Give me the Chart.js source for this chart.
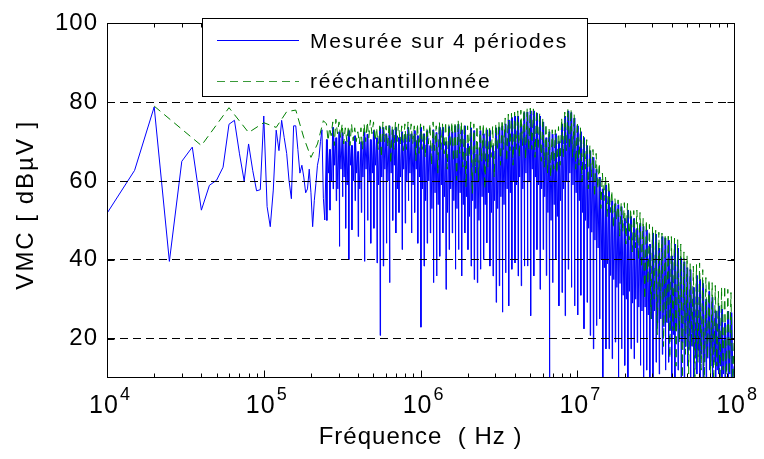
<!DOCTYPE html>
<html>
<head>
<meta charset="utf-8">
<script src="https://cdn.jsdelivr.net/npm/chart.js@4.4.1/dist/chart.umd.min.js"></script>
<style>
  html, body { margin: 0; padding: 0; background: #ffffff; }
  #wrap { width: 764px; height: 459px; }
</style>
</head>
<body>
<div id="wrap"><canvas id="spectrum" width="764" height="459"></canvas></div>
<script>
// Common-mode voltage spectrum, levels in dBµV.

// Low band: individual spectral lines (kHz) of the 4-period measurement.
const measuredLineFreqKHz = [10, 15, 20, 25, 30, 35, 40, 45, 50, 55, 60, 65, 70, 75, 80, 85, 90, 95,
  100, 105, 110, 115, 120, 125, 130, 135, 140, 145, 150, 155, 160, 165, 170, 175, 180, 185, 190, 195,
  200, 205, 210, 215, 220, 225, 230, 235, 240, 245];
const measuredLineLevel = [51.8, 62.7, 78.8, 39.6, 65.0, 68.6, 52.6, 58.9, 60.2, 63.5, 74.4, 75.4, 66.9,
  60.0, 69.4, 62.7, 57.5, 57.8, 76.5, 53.5, 48.4, 57.7, 72.9, 67.7, 75.4, 71.0, 67.0, 60.0, 55.5, 74.0,
  74.0, 68.0, 62.0, 64.0, 61.0, 57.0, 58.0, 63.0, 57.0, 48.4, 55.0, 59.3, 64.0, 66.0, 70.0, 73.0, 55.6, 50.1];

// Low band: spectral lines (kHz) of the resampled signal.
const resampledLineFreqKHz = [20, 40, 60, 80, 100, 120, 140, 160, 180, 200, 220, 240];
const resampledLineLevel = [79.0, 69.0, 78.6, 72.3, 74.8, 73.6, 77.6, 78.0, 71.0, 66.0, 69.4, 75.3];

// Upper band: log-spaced bins, 50 per decade starting at 10^5.4 Hz.
// Each bin holds its peak level, its deepest dip and (measured trace) a shallower dip.
const BIN_START_LOG10 = 5.4;
const BINS_PER_DECADE = 50;

const measuredBinPeak = [
  70.5, 68.0, 73.6, 71.0, 72.5, 72.3, 70.0, 72.8, 69.0, 71.5, 67.5, 70.0, 72.5, 71.9, 70.5,
  72.8, 71.0, 73.6, 73.6, 72.0, 74.0, 73.0, 73.6, 71.0, 72.5, 71.9, 73.6, 72.0, 72.8, 71.5,
  73.6, 72.0, 72.8, 69.0, 73.0, 72.3, 73.6, 73.6, 70.0, 73.8, 72.5, 74.0, 74.4, 73.0, 74.0,
  69.5, 73.5, 72.8, 68.5, 72.8, 72.0, 73.0, 72.8, 69.0, 73.5, 73.6, 74.0, 74.5, 75.5, 76.1,
  76.5, 76.5, 74.5, 77.4, 77.5, 77.8, 77.8, 77.2, 76.5, 75.0, 71.0, 72.5, 71.9, 72.0, 70.0,
  74.5, 76.5, 77.8, 77.4, 76.0,
  74.0, 72.5, 71.0, 69.0, 67.7, 66.0, 63.0, 61.0, 58.0, 59.0, 57.5, 55.0, 54.3, 54.0, 53.5,
  50.5, 52.6, 51.0, 50.5, 48.0, 49.3, 48.5, 47.6, 44.0, 46.8, 46.5, 43.0, 45.9, 45.5, 45.0,
  41.0, 44.0, 43.0, 40.5, 39.5, 38.0, 37.5, 33.0, 36.0, 35.0, 34.0, 30.0, 32.0, 30.5, 27.0,
  28.3, 27.5, 24.0, 27.0, 26.6];
const measuredBinDip = [
  50.0, 52.6, 58.0, 55.0, 43.4, 56.0, 48.0, 40.0, 47.6, 55.0, 45.9, 52.0, 39.6, 50.0, 44.2,
  48.0, 39.2, 20.8, 38.4, 44.2, 34.2, 50.0, 46.8, 52.0, 42.6, 49.3, 55.0, 46.8, 52.0, 44.2,
  22.9, 38.4, 44.2, 46.8, 34.2, 35.9, 40.9, 46.8, 32.5, 42.6, 46.8, 37.6, 42.6, 35.9, 46.8,
  42.6, 38.4, 35.0, 34.2, 37.6, 40.1, 44.3, 38.4, 35.9, 29.2, 33.4, 26.7, 36.7, 28.3, 37.6,
  39.2, 35.9, 33.4, 38.4, 38.4, 25.8, 35.9, 42.6, 32.5, 42.6, 36.0, 5.0, 34.2, 40.0, 28.3,
  31.7, 25.8, 37.6, 33.0, 28.3,
  26.0, 31.0, 22.5, 29.2, 20.8, 17.4, 23.3, 25.0, 5.0, 17.4, 17.4, 14.9, 19.1, 5.0, 17.4,
  13.2, 5.0, 17.4, 14.9, 19.0, 13.2, 5.0, 12.0, 5.0, 5.0, 14.0, 11.0, 16.0, 12.0, 14.0,
  5.0, 5.0, 12.0, 5.0, 5.0, 13.0, 5.0, 5.0, 11.0, 5.0, 5.0, 5.0, 12.0, 5.0, 5.0,
  11.0, 5.0, 5.0, 10.0, 5.0];
const measuredBinShallow = [
  62.0, 60.0, 64.0, 58.0, 63.0, 61.0, 59.0, 64.0, 60.0, 62.0, 58.0, 61.0, 63.0, 60.0, 62.0,
  64.0, 59.0, 61.0, 63.0, 60.0, 62.0, 64.0, 58.0, 61.0, 63.0, 60.0, 62.0, 59.0, 63.0, 61.0,
  58.0, 55.0, 60.0, 53.0, 57.0, 54.0, 59.0, 56.0, 52.0, 58.0, 55.0, 53.0, 57.0, 54.0, 56.0,
  51.0, 55.0, 53.0, 50.0, 56.0, 54.0, 57.0, 52.0, 55.0, 53.0, 56.0, 54.0, 58.0, 57.0, 60.0,
  59.0, 61.0, 58.0, 62.0, 60.0, 63.0, 61.0, 59.0, 58.0, 56.0, 52.0, 50.0, 54.0, 51.0, 55.0,
  58.0, 60.0, 62.0, 59.0, 57.0,
  55.0, 52.0, 50.0, 48.0, 47.0, 45.0, 43.0, 40.0, 38.0, 39.0, 36.0, 35.0, 33.0, 34.0, 31.0,
  30.0, 32.0, 29.0, 30.0, 28.0, 27.0, 28.0, 26.0, 25.0, 27.0, 24.0, 25.0, 23.0, 24.0, 22.0,
  21.0, 23.0, 20.0, 19.0, 18.0, 17.0, 18.0, 15.0, 17.0, 16.0, 14.0, 15.0, 13.0, 14.0, 12.0,
  13.0, 11.0, 12.0, 11.0, 10.0];

const resampledBinPeak = [
  74.5, 73.5, 75.0, 75.7, 75.0, 74.5, 73.5, 74.0, 74.5, 73.5, 72.5, 73.5, 74.5, 75.0, 75.5,
  75.0, 73.5, 74.0, 75.0, 74.0, 74.5, 74.0, 75.0, 74.5, 74.0, 74.5, 75.0, 74.5, 74.0, 74.5,
  74.5, 74.0, 73.5, 74.5, 75.0, 74.0, 75.0, 74.5, 75.0, 74.5, 75.0, 75.0, 75.5, 75.0, 74.5,
  74.0, 75.0, 74.5, 74.0, 74.0, 74.5, 73.5, 74.0, 74.0, 74.5, 75.0, 75.5, 76.0, 77.0, 77.2,
  77.5, 77.8, 78.0, 78.2, 78.4, 78.5, 78.3, 78.0, 77.2, 76.0, 74.5, 73.2, 73.0, 73.0, 73.8,
  76.0, 77.5, 78.4, 78.2, 77.0,
  75.0, 73.5, 71.5, 70.5, 69.0, 68.0, 67.0, 64.5, 62.0, 61.0, 60.0, 57.5, 55.5, 55.2, 54.5,
  54.5, 54.3, 53.0, 52.5, 52.6, 52.0, 50.5, 50.0, 49.0, 48.4, 47.5, 47.0, 46.8, 46.5, 46.0,
  45.9, 45.5, 45.1, 44.0, 42.0, 41.0, 39.0, 38.4, 38.8, 39.2, 37.5, 35.5, 35.0, 34.2, 33.5,
  32.0, 33.0, 33.4, 32.5, 31.7];
const resampledBinDip = [
  70.2, 71.5, 69.0, 72.0, 71.0, 69.4, 70.0, 69.0, 70.2, 70.0, 69.4, 68.0, 70.0, 71.0, 72.0,
  70.2, 68.0, 66.0, 70.0, 68.6, 64.4, 68.0, 70.0, 69.4, 67.7, 68.0, 70.0, 69.4, 65.2, 67.0,
  68.0, 66.0, 69.4, 64.0, 67.7, 62.0, 68.0, 66.9, 63.0, 68.5, 65.0, 60.2, 67.0, 63.5, 58.5,
  66.0, 56.8, 62.0, 60.0, 65.0, 58.0, 63.5, 66.0, 61.0, 67.7, 64.0, 68.0, 65.0, 67.7, 64.0,
  68.0, 66.0, 69.0, 65.5, 67.7, 68.0, 66.0, 68.0, 65.0, 63.5, 62.0, 61.0, 63.0, 62.0, 64.0,
  66.0, 67.7, 68.0, 66.0, 63.0,
  64.0, 60.0, 63.0, 58.0, 61.0, 56.0, 58.0, 53.0, 55.0, 51.0, 52.0, 48.0, 50.0, 46.0, 47.0,
  44.0, 45.0, 42.0, 43.0, 40.0, 38.0, 30.0, 34.0, 25.0, 30.0, 21.0, 27.0, 18.0, 24.0, 15.0,
  22.0, 13.0, 19.0, 10.0, 16.0, 11.0, 18.0, 9.0, 14.0, 12.0, 8.0, 15.0, 11.0, 9.0, 13.0,
  8.0, 12.0, 9.0, 11.0, 8.0];

// Level of each trace at the 100 MHz end of the band.
const measuredAt100MHz = 13.0;
const resampledAt100MHz = 19.0;

// Axis ticks.
const yTickValues = [20, 40, 60, 80, 100];
const xDecadeExponents = [4, 5, 6, 7, 8];

const seriesNames = ['Mesurée sur 4 périodes', 'rééchantillonnée'];
const FONT = '"Liberation Sans", Arial, Helvetica, sans-serif';
const LEGEND_FONT_PX = 21;

const binFreq = (lg, frac) => Math.pow(10, lg + frac / BINS_PER_DECADE);

// Measured trace: each bin is a narrow tooth (peak, deep dip, peak)
// followed by a wider notch down to the shallow dip.
function buildMeasured() {
  const pts = measuredLineFreqKHz.map((f, i) => ({ x: f * 1e3, y: measuredLineLevel[i] }));
  measuredBinPeak.forEach((peak, i) => {
    const lg = BIN_START_LOG10 + i / BINS_PER_DECADE;
    pts.push({ x: binFreq(lg, 0), y: peak });
    pts.push({ x: binFreq(lg, 0.12), y: measuredBinDip[i] });
    pts.push({ x: binFreq(lg, 0.24), y: peak });
    pts.push({ x: binFreq(lg, 0.62), y: measuredBinShallow[i] });
  });
  pts.push({ x: 1e8, y: measuredAt100MHz });
  return pts;
}

// Resampled trace: peak then dip in each bin.
function buildResampled() {
  const pts = resampledLineFreqKHz.map((f, i) => ({ x: f * 1e3, y: resampledLineLevel[i] }));
  resampledBinPeak.forEach((peak, i) => {
    const lg = BIN_START_LOG10 + i / BINS_PER_DECADE;
    pts.push({ x: binFreq(lg, 0), y: peak });
    pts.push({ x: binFreq(lg, 0.5), y: resampledBinDip[i] });
  });
  pts.push({ x: 1e8, y: resampledAt100MHz });
  return pts;
}

const measuredTrace = buildMeasured();
const resampledTrace = buildResampled();

const BLUE = '#0000ff';
const GREEN = '#008000';
const DASH = [8, 5];

// Text spacing for all chart text.
const textSpacing = {
  id: 'textSpacing',
  beforeDraw(chart) { chart.ctx.letterSpacing = '1px'; }
};

// The vertical axis title is set a little looser and lower.
function loosenTitle(scale) {
  if (scale._titleLoosened) return;
  scale._titleLoosened = true;
  const drawTitle = scale.drawTitle.bind(scale);
  scale.drawTitle = function () {
    const ctx = this.ctx;
    ctx.save();
    ctx.letterSpacing = '2px';
    ctx.translate(0, 4);
    drawTitle();
    ctx.restore();
  };
}

// Boxed axes with inward ticks, power-of-ten exponents and the legend.
const framePlugin = {
  id: 'frame',
  afterDraw(chart) {
    const { ctx, chartArea: a, scales: { x, y } } = chart;
    ctx.save();
    ctx.setLineDash([]);
    ctx.strokeStyle = '#000';
    ctx.lineWidth = 1;
    const L = Math.round(a.left) + 0.5, R = Math.round(a.right) + 0.5;
    const T = Math.round(a.top) + 0.5, B = Math.round(a.bottom) - 0.5;
    ctx.strokeRect(L, T, R - L, B - T);

    const major = 7, minor = 4;
    ctx.beginPath();
    xDecadeExponents.forEach(e => {
      const px = Math.round(x.getPixelForValue(Math.pow(10, e))) + 0.5;
      ctx.moveTo(px, B); ctx.lineTo(px, B - major);
      ctx.moveTo(px, T); ctx.lineTo(px, T + major);
      if (e < xDecadeExponents[xDecadeExponents.length - 1]) {
        for (let m = 2; m <= 9; m++) {
          const pm = Math.round(x.getPixelForValue(m * Math.pow(10, e))) + 0.5;
          ctx.moveTo(pm, B); ctx.lineTo(pm, B - minor);
          ctx.moveTo(pm, T); ctx.lineTo(pm, T + minor);
        }
      }
    });
    yTickValues.forEach(v => {
      const py = Math.round(y.getPixelForValue(v)) + 0.5;
      ctx.moveTo(L, py); ctx.lineTo(L + major, py);
      ctx.moveTo(R, py); ctx.lineTo(R - major, py);
    });
    ctx.stroke();

    // Exponents of the x tick labels.
    const tickFont = x.options.ticks.font;
    ctx.letterSpacing = '1px';
    ctx.font = `${tickFont.size}px ${FONT}`;
    const baseW = ctx.measureText('10').width;
    ctx.font = `18px ${FONT}`;
    ctx.fillStyle = '#000';
    ctx.textAlign = 'left';
    ctx.textBaseline = 'alphabetic';
    xDecadeExponents.forEach(e => {
      const px = x.getPixelForValue(Math.pow(10, e)) + x.options.ticks.labelOffset;
      ctx.fillText(String(e), px + baseW / 2 + 1, a.bottom + 21.5);
    });

    // Legend box.
    const lx = 202, ly = 18, lw = 386, lh = 79;
    ctx.fillStyle = '#fff';
    ctx.fillRect(lx, ly, lw, lh);
    ctx.strokeStyle = '#000';
    ctx.strokeRect(lx + 0.5, ly + 0.5, lw - 1, lh - 1);
    const rows = [
      { name: seriesNames[0], color: BLUE, dash: [], lineY: 40.5, textY: 47.5 },
      { name: seriesNames[1], color: '#3a9a3a', dash: DASH, lineY: 81.5, textY: 87.5 }
    ];
    ctx.font = `${LEGEND_FONT_PX}px ${FONT}`;
    ctx.letterSpacing = '1.7px';
    rows.forEach(r => {
      ctx.beginPath();
      ctx.setLineDash(r.dash);
      ctx.strokeStyle = r.color;
      ctx.moveTo(217, r.lineY); ctx.lineTo(299, r.lineY);
      ctx.stroke();
      ctx.setLineDash([]);
      ctx.fillStyle = '#000';
      ctx.fillText(r.name, 310, r.textY);
    });
    ctx.restore();
  }
};

new Chart(document.getElementById('spectrum'), {
  type: 'line',
  data: {
    datasets: [
      { label: seriesNames[0], data: measuredTrace, borderColor: BLUE, borderWidth: 1,
        pointRadius: 0, tension: 0, order: 2 },
      { label: seriesNames[1], data: resampledTrace, borderColor: GREEN, borderWidth: 1,
        borderDash: DASH, pointRadius: 0, tension: 0, order: 1 }
    ]
  },
  options: {
    responsive: false,
    animation: false,
    devicePixelRatio: 1,
    events: [],
    layout: { padding: { left: 0, top: 20, right: 22, bottom: 0 } },
    plugins: { legend: { display: false }, tooltip: { enabled: false } },
    scales: {
      x: {
        type: 'logarithmic',
        min: 1e4,
        max: 1e8,
        afterFit(scale) { scale.height = 81; },
        afterBuildTicks(scale) {
          scale.ticks = xDecadeExponents.map(e => ({ value: Math.pow(10, e), major: true }));
        },
        ticks: {
          callback: () => '10',
          font: { family: FONT, size: 25, lineHeight: 1 },
          color: '#000',
          padding: 16,
          labelOffset: -3,
          maxRotation: 0,
          autoSkip: false
        },
        grid: { display: false, drawTicks: false },
        border: { display: false },
        title: {
          display: true,
          text: 'Fréquence  ( Hz )',
          font: { family: FONT, size: 24 },
          color: '#000',
          padding: { top: 0, bottom: 7 }
        }
      },
      y: {
        type: 'linear',
        min: 10,
        max: 100,
        afterFit(scale) { scale.width = 107; loosenTitle(scale); },
        afterBuildTicks(scale) { scale.ticks = yTickValues.map(v => ({ value: v })); },
        ticks: { font: { family: FONT, size: 24 }, color: '#000', padding: 9, autoSkip: false },
        grid: { color: '#000', lineWidth: 1, drawTicks: false, z: 1 },
        border: { display: false, dash: DASH },
        title: {
          display: true,
          text: 'VMC [ dBµV ]',
          font: { family: FONT, size: 24 },
          color: '#000',
          padding: { top: 12, bottom: 0 }
        }
      }
    }
  },
  plugins: [textSpacing, framePlugin]
});
</script>
</body>
</html>
